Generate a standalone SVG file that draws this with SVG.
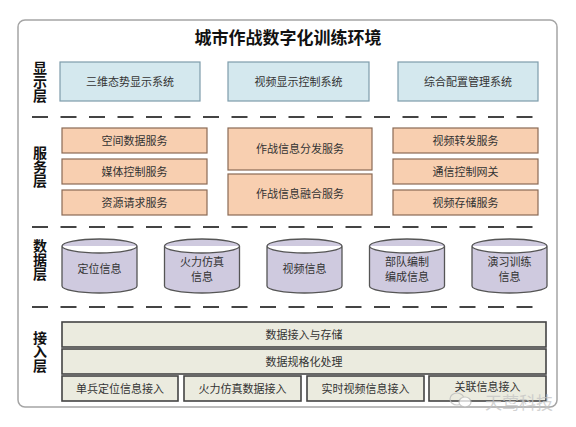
<svg xmlns="http://www.w3.org/2000/svg" width="576" height="427" viewBox="0 0 576 427">
<style>
text{font-family:"Noto Sans CJK SC","Noto Sans",sans-serif;text-anchor:middle}
.title{font-size:17px;font-weight:bold;fill:#111}
.lay{font-size:14px;font-weight:bold;fill:#111;writing-mode:vertical-rl}
.t{font-size:11px;fill:#333}
.disp{fill:#d4e8ee;stroke:#7e9cab;stroke-width:1.2}
.svc{fill:#f8cfb0;stroke:#8a6a55;stroke-width:1.2}
.cyl{fill:#cfcadf;stroke:#555;stroke-width:1.3}
.acc{fill:#ebebdf;stroke:#444;stroke-width:1.6}
.dash{stroke:#444;stroke-width:2;stroke-dasharray:16 12.5;fill:none}
</style>
<rect width="576" height="427" fill="#fff"/>
<rect x="18" y="20" width="539" height="387" rx="7" fill="#fff" stroke="#a5a5a5" stroke-width="1.5"/>
<text class="title" x="288" y="44">城市作战数字化训练环境</text>

<g id="labels">
<text class="lay" x="40" y="81.5">显示层</text>
<text class="lay" x="40" y="166.5">服务层</text>
<text class="lay" x="40" y="260">数据层</text>
<text class="lay" x="40" y="351.5">接入层</text>
</g>

<g id="separators">
<line class="dash" x1="32" y1="117" x2="542" y2="117"/>
<line class="dash" x1="32" y1="227" x2="542" y2="227"/>
<line class="dash" x1="32" y1="307" x2="542" y2="307"/>
</g>

<g id="display-layer">
<g id="d1"><rect class="disp" x="60" y="62" width="140" height="39"/><text class="t" x="130" y="85.5">三维态势显示系统</text></g>
<g id="d2"><rect class="disp" x="228" y="62" width="141" height="39"/><text class="t" x="298.5" y="85.5">视频显示控制系统</text></g>
<g id="d3"><rect class="disp" x="398" y="62" width="140" height="39"/><text class="t" x="468" y="85.5">综合配置管理系统</text></g>
</g>

<g id="service-layer">
<g id="s1"><rect class="svc" x="62" y="128" width="145" height="25"/><text class="t" x="134.5" y="144.5">空间数据服务</text></g>
<g id="s2"><rect class="svc" x="62" y="159" width="145" height="25"/><text class="t" x="134.5" y="175.5">媒体控制服务</text></g>
<g id="s3"><rect class="svc" x="62" y="190" width="145" height="25"/><text class="t" x="134.5" y="206.5">资源请求服务</text></g>
<g id="s4"><rect class="svc" x="228" y="128" width="144" height="42"/><text class="t" x="300" y="153">作战信息分发服务</text></g>
<g id="s5"><rect class="svc" x="228" y="174" width="144" height="41"/><text class="t" x="300" y="198">作战信息融合服务</text></g>
<g id="s6"><rect class="svc" x="393" y="128" width="145" height="25"/><text class="t" x="465.5" y="144.5">视频转发服务</text></g>
<g id="s7"><rect class="svc" x="393" y="159" width="145" height="25"/><text class="t" x="465.5" y="175.5">通信控制网关</text></g>
<g id="s8"><rect class="svc" x="393" y="190" width="145" height="25"/><text class="t" x="465.5" y="206.5">视频存储服务</text></g>
</g>

<g id="data-layer">
<g id="c1"><path class="cyl" d="M62 246 A37.5 7 0 0 1 137 246 V286 A37.5 7 0 0 1 62 286 Z M62 246 A37.5 7 0 0 0 137 246"/><text class="t" x="99.5" y="273">定位信息</text></g>
<g id="c2"><path class="cyl" d="M164.5 246 A37.5 7 0 0 1 239.5 246 V286 A37.5 7 0 0 1 164.5 286 Z M164.5 246 A37.5 7 0 0 0 239.5 246"/><text class="t" x="202" y="266">火力仿真<tspan x="202" dy="15">信息</tspan></text></g>
<g id="c3"><path class="cyl" d="M267 246 A37.5 7 0 0 1 342 246 V286 A37.5 7 0 0 1 267 286 Z M267 246 A37.5 7 0 0 0 342 246"/><text class="t" x="304.5" y="273">视频信息</text></g>
<g id="c4"><path class="cyl" d="M369.5 246 A37.5 7 0 0 1 444.5 246 V286 A37.5 7 0 0 1 369.5 286 Z M369.5 246 A37.5 7 0 0 0 444.5 246"/><text class="t" x="407" y="266">部队编制<tspan x="407" dy="15">编成信息</tspan></text></g>
<g id="c5"><path class="cyl" d="M472 246 A37.5 7 0 0 1 547 246 V286 A37.5 7 0 0 1 472 286 Z M472 246 A37.5 7 0 0 0 547 246"/><text class="t" x="509.5" y="266">演习训练<tspan x="509.5" dy="15">信息</tspan></text></g>
</g>

<g id="access-layer">
<g id="a1"><rect class="acc" x="62" y="322" width="484" height="25"/><text class="t" x="304" y="338.5">数据接入与存储</text></g>
<g id="a2"><rect class="acc" x="62" y="349" width="484" height="25"/><text class="t" x="304" y="365.5">数据规格化处理</text></g>
<g id="a3"><rect class="acc" x="62" y="376" width="116" height="25"/><text class="t" x="120" y="392.5">单兵定位信息接入</text></g>
<g id="a4"><rect class="acc" x="184" y="376" width="117" height="25"/><text class="t" x="242.5" y="392.5">火力仿真数据接入</text></g>
<g id="a5"><rect class="acc" x="307" y="376" width="117" height="25"/><text class="t" x="365.5" y="392.5">实时视频信息接入</text></g>
<g id="a6"><rect class="acc" x="429" y="376" width="117" height="25"/><text class="t" x="487.5" y="390.5">关联信息接入</text></g>
</g>

<g id="watermark" opacity="0.75">
<ellipse cx="457" cy="399" rx="7" ry="6" fill="none" stroke="#bbb" stroke-width="1.2"/>
<ellipse cx="465" cy="402" rx="6" ry="5" fill="#fff" stroke="#bbb" stroke-width="1.2"/>
<text x="519" y="409" style="font-size:17px;fill:#c4c4c4">天莺科技</text>
</g>
</svg>
